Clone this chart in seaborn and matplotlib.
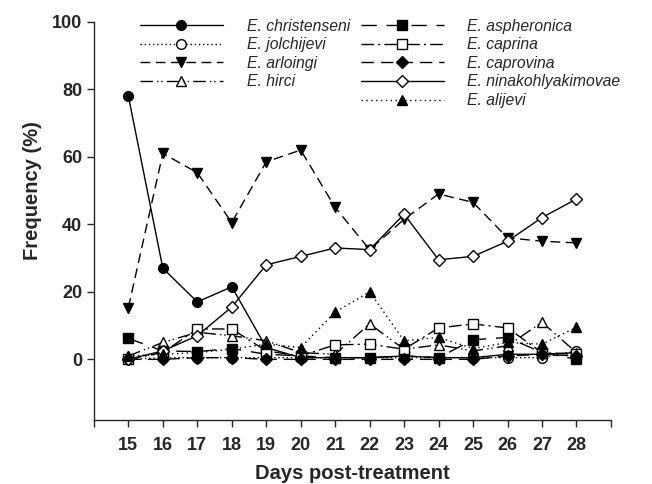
import numpy as np
import pandas as pd
import seaborn as sns
import matplotlib
matplotlib.use("Agg")
import matplotlib.pyplot as plt

# Datos (frecuencia %, días 15-28)
days = list(range(15, 29))
christenseni = [78, 27, 17, 21.5, 3.5, 0.5, 0.5, 0.5, 1, 0.5, 0.5, 1.5, 1.5, 2]
jolchijevi = [0, 0.5, 0.5, 0.5, 0.5, 0.5, 0.5, 0.5, 0.5, 0.5, 0.5, 0.5, 0.5, 2.5]
arloingi = [15.3, 61, 55.3, 40.5, 58.5, 62, 45, 32.5, 41.5, 49, 46.5, 36, 35, 34.5]
hirci = [1, 5, 8, 7, 5.5, 2, 1.5, 10.5, 3, 4.3, 2.5, 4, 11, 2]
aspheronica = [6.2, 2.5, 2.3, 3.2, 1.5, 1, 0.5, 0.5, 1, 0.5, 5.8, 6.5, 2, 0]
caprina = [0, 2, 9, 9, 2.5, 1, 4.3, 4.5, 3, 9.3, 10.5, 9.3, 2, 1.5]
caprovina = [0, 0, 0.5, 0.5, 0, 0, 0, 0, 0, 0, 0, 1, 1.5, 1]
ninakohlyakimovae = [0, 2.5, 7, 15.5, 28, 30.5, 33, 32.5, 43, 29.5, 30.5, 35, 42, 47.5]
alijevi = [1, 1.5, 2, 3, 4.5, 3.5, 14, 20, 5.5, 6.5, 3.2, 5, 4.5, 9.5]

names_col1 = ['E. christenseni', 'E. jolchijevi', 'E. arloingi', 'E. hirci']
names_col2 = ['E. aspheronica', 'E. caprina', 'E. caprovina',
              'E. ninakohlyakimovae', 'E. alijevi']

series = {
    'E. christenseni': (christenseni, 'o', 'black', '-'),
    'E. jolchijevi': (jolchijevi, 'o', 'white', (0, (1, 2))),
    'E. arloingi': (arloingi, 'v', 'black', (0, (7, 4))),
    'E. hirci': (hirci, '^', 'white', (0, (9, 3, 1, 2, 1, 3))),
    'E. aspheronica': (aspheronica, 's', 'black', (0, (11, 7))),
    'E. caprina': (caprina, 's', 'white', (0, (9, 3, 1.5, 3))),
    'E. caprovina': (caprovina, 'D', 'black', (0, (9, 5))),
    'E. ninakohlyakimovae': (ninakohlyakimovae, 'D', 'white', '-'),
    'E. alijevi': (alijevi, '^', 'black', (0, (1, 2.5))),
}

sns.set_style("ticks")
plt.rcParams['font.family'] = ['Liberation Sans', 'DejaVu Sans']

fig = plt.figure(figsize=(6.52, 4.84), dpi=100)
ax = fig.add_axes([0.144, 0.132, 0.793, 0.823])

handles = {}
for nombre, (vals, mk, fc, ls) in series.items():
    df = pd.DataFrame({'dia': days, 'freq': vals})
    sns.lineplot(data=df, x='dia', y='freq', ax=ax, color='black', linewidth=1,
                 linestyle=ls, marker=mk, markersize=7 if mk != 'D' else 6.5,
                 markerfacecolor=fc, markeredgecolor='black', markeredgewidth=1,
                 label=nombre, legend=False)
    handles[nombre] = ax.lines[-1]

ax.set_xlim(14, 29)
ax.set_ylim(-18, 100)
ax.set_xticks(range(14, 30))
ax.set_xticklabels([''] + [str(d) for d in days] + [''])
ax.set_yticks(range(0, 101, 20))
ax.tick_params(axis='both', labelsize=13, width=1, length=5, direction='out')
ax.tick_params(axis='x', pad=7)
for lab in ax.get_xticklabels() + ax.get_yticklabels():
    lab.set_fontweight('bold')
for s in ['left', 'bottom']:
    ax.spines[s].set_linewidth(1)
sns.despine(ax=ax)

ax.set_xlabel('Days post-treatment', fontsize=14.5, fontweight='bold', labelpad=7)
ax.set_ylabel('Frequency (%)', fontsize=14.5, fontweight='bold')
ax.yaxis.set_label_coords(-0.10, (50 + 18) / 118)

leg_kw = dict(frameon=False, handlelength=5.3, handletextpad=1.5, labelspacing=0.23,
              numpoints=1, borderpad=0, borderaxespad=0,
              prop={'style': 'italic', 'size': 11.3})
leg1 = ax.legend([handles[n] for n in names_col1], names_col1, loc='upper left',
                 bbox_to_anchor=(0.089, 1.008), **leg_kw)
ax.add_artist(leg1)
ax.legend([handles[n] for n in names_col2], names_col2, loc='upper left',
          bbox_to_anchor=(0.516, 1.008), **leg_kw)

fig.savefig('out.png', dpi=100)
